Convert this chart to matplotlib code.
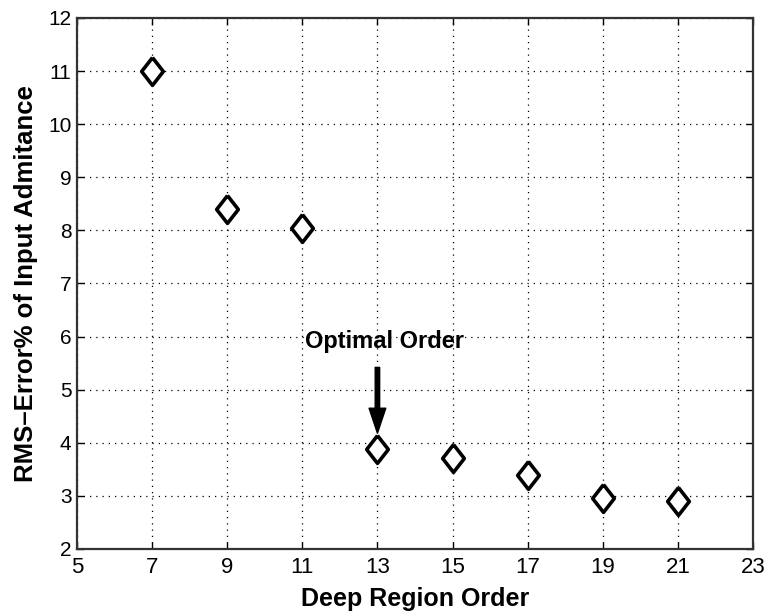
import matplotlib.pyplot as plt

# data
orders = [7, 9, 11, 13, 15, 17, 19, 21]
rms_error = [11.0, 8.41, 8.05, 3.89, 3.72, 3.39, 2.96, 2.90]
x_ticks = [5, 7, 9, 11, 13, 15, 17, 19, 21, 23]
y_ticks = [2, 3, 4, 5, 6, 7, 8, 9, 10, 11, 12]

plt.rcParams['font.family'] = ['Liberation Sans', 'DejaVu Sans']

fig = plt.figure(figsize=(7.67, 6.16), dpi=100)
ax = fig.add_axes([0.1004, 0.1088, 0.8813, 0.862])

# wider diamond than matplotlib's 'd'
diamond = [(0, 1), (0.78, 0), (0, -1), (-0.78, 0), (0, 1)]
ax.plot(orders, rms_error, linestyle='none', marker=diamond, markersize=20,
        markerfacecolor='white', markeredgecolor='black', markeredgewidth=2.6,
        zorder=3)

ax.set_xlim(5, 23)
ax.set_ylim(2, 12)
ax.set_xticks(x_ticks)
ax.set_yticks(y_ticks)
ax.tick_params(direction='in', top=True, right=True, length=5, width=1,
               labelsize=15)
ax.tick_params(axis='x', labelsize=16, pad=6)
ax.tick_params(axis='y', pad=4)
ax.grid(True, linestyle=(0, (1, 4)), color='black', linewidth=0.9)
for s in ax.spines.values():
    s.set_linewidth(1.6)
    s.set_color('#333333')

ax.set_xlabel('Deep Region Order', fontsize=18, fontweight='bold', labelpad=6)
ax.set_ylabel('RMS\u2013Error% of Input Admitance', fontsize=18.5,
              fontweight='bold', labelpad=7)

ax.annotate('', xy=(13, 4.18), xytext=(13, 5.42),
            arrowprops=dict(width=3.2, headwidth=12, headlength=18,
                            facecolor='black', edgecolor='black', shrink=0))
ax.text(13.2, 5.9, 'Optimal Order', fontsize=17, fontweight='bold',
        ha='center', va='center')

fig.savefig('out.png', dpi=100)
